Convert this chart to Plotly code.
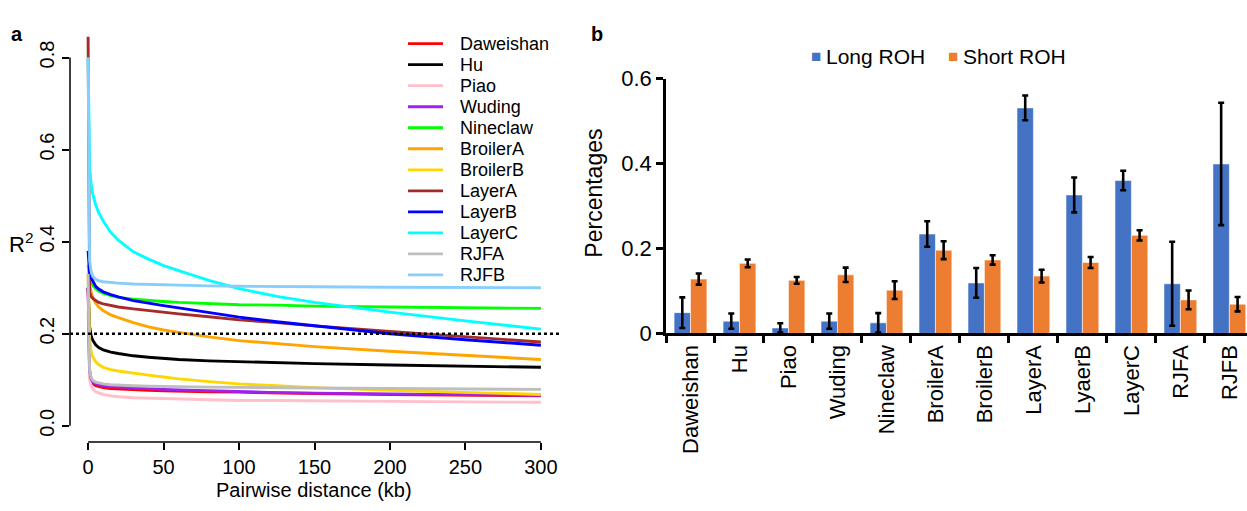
import plotly.graph_objects as go

W, H = 1247, 511
FONT = "Liberation Sans, Arial, sans-serif"

# ---------------- Panel a data: LD decay (R^2 vs pairwise distance) ----------------
distance_kb = [0, 1, 2, 3, 5, 7, 10, 15, 20, 30, 40, 50, 60, 80, 100, 125, 150, 200, 250, 300]

populations = ["Daweishan", "Hu", "Piao", "Wuding", "Nineclaw", "BroilerA",
               "BroilerB", "LayerA", "LayerB", "LayerC", "RJFA", "RJFB"]
line_colors = ["#FF0000", "#000000", "#FFC0CB", "#A020F0", "#00FF00", "#FFA500",
               "#FFD700", "#A52A2A", "#0000FF", "#00FFFF", "#BEBEBE", "#87CEFA"]

r2_daweishan = [0.30, 0.110, 0.097, 0.092, 0.087, 0.085, 0.083, 0.081, 0.080, 0.078, 0.077, 0.076, 0.075, 0.074, 0.073, 0.071, 0.070, 0.068, 0.066, 0.065]
r2_hu        = [0.30, 0.215, 0.195, 0.186, 0.176, 0.170, 0.165, 0.160, 0.157, 0.152, 0.149, 0.146, 0.144, 0.141, 0.139, 0.137, 0.135, 0.132, 0.129, 0.127]
r2_piao      = [0.25, 0.100, 0.087, 0.080, 0.074, 0.071, 0.068, 0.065, 0.063, 0.061, 0.060, 0.059, 0.058, 0.056, 0.055, 0.055, 0.054, 0.053, 0.052, 0.051]
r2_wuding    = [0.30, 0.120, 0.102, 0.096, 0.091, 0.089, 0.087, 0.085, 0.084, 0.082, 0.080, 0.079, 0.078, 0.076, 0.074, 0.072, 0.071, 0.069, 0.067, 0.066]
r2_nineclaw  = [0.33, 0.320, 0.312, 0.306, 0.298, 0.293, 0.288, 0.283, 0.279, 0.275, 0.272, 0.270, 0.268, 0.265, 0.263, 0.262, 0.260, 0.258, 0.256, 0.255]
r2_broilera  = [0.35, 0.310, 0.290, 0.280, 0.266, 0.258, 0.250, 0.241, 0.235, 0.224, 0.215, 0.208, 0.203, 0.193, 0.185, 0.178, 0.172, 0.162, 0.153, 0.144]
r2_broilerb  = [0.33, 0.190, 0.162, 0.150, 0.139, 0.133, 0.127, 0.122, 0.119, 0.114, 0.110, 0.106, 0.102, 0.096, 0.091, 0.087, 0.083, 0.077, 0.072, 0.068]
r2_layera    = [0.845, 0.290, 0.281, 0.277, 0.272, 0.268, 0.265, 0.261, 0.258, 0.254, 0.250, 0.246, 0.243, 0.237, 0.230, 0.224, 0.217, 0.205, 0.193, 0.182]
r2_layerb    = [0.38, 0.330, 0.322, 0.315, 0.303, 0.297, 0.291, 0.285, 0.280, 0.272, 0.266, 0.261, 0.256, 0.246, 0.236, 0.226, 0.217, 0.200, 0.187, 0.175]
r2_layerc    = [0.80, 0.560, 0.525, 0.505, 0.480, 0.463, 0.445, 0.420, 0.403, 0.378, 0.362, 0.348, 0.337, 0.316, 0.298, 0.281, 0.268, 0.247, 0.228, 0.210]
r2_rjfa      = [0.33, 0.120, 0.105, 0.099, 0.095, 0.093, 0.091, 0.089, 0.088, 0.087, 0.086, 0.085, 0.085, 0.084, 0.083, 0.083, 0.082, 0.081, 0.080, 0.079]
r2_rjfb      = [0.80, 0.360, 0.335, 0.325, 0.318, 0.315, 0.313, 0.311, 0.310, 0.308, 0.307, 0.306, 0.305, 0.304, 0.303, 0.303, 0.302, 0.301, 0.300, 0.300]

r2_series = [r2_daweishan, r2_hu, r2_piao, r2_wuding, r2_nineclaw, r2_broilera,
             r2_broilerb, r2_layera, r2_layerb, r2_layerc, r2_rjfa, r2_rjfb]

r2_threshold = 0.2
x_ticks_a = [0, 50, 100, 150, 200, 250, 300]
y_ticks_a = [0.0, 0.2, 0.4, 0.6, 0.8]
y_ticktext_a = ["0.0", "0.2", "0.4", "0.6", "0.8"]

# ---------------- Panel b data: ROH percentages ----------------
categories = ["Daweishan", "Hu", "Piao", "Wuding", "Nineclaw", "BroilerA",
              "BroilerB", "LayerA", "LyaerB", "LayerC", "RJFA", "RJFB"]
long_roh       = [0.049, 0.029, 0.013, 0.029, 0.025, 0.234, 0.119, 0.531, 0.326, 0.360, 0.117, 0.399]
long_roh_err   = [0.036, 0.018, 0.011, 0.018, 0.023, 0.030, 0.035, 0.029, 0.041, 0.023, 0.099, 0.144]
short_roh      = [0.128, 0.165, 0.125, 0.138, 0.102, 0.196, 0.173, 0.135, 0.167, 0.231, 0.079, 0.069]
short_roh_err  = [0.013, 0.009, 0.008, 0.017, 0.021, 0.021, 0.011, 0.015, 0.013, 0.012, 0.022, 0.017]
y_ticks_b = [0, 0.2, 0.4, 0.6]
y_ticktext_b = ["0", "0.2", "0.4", "0.6"]
series_b = ["Long ROH", "Short ROH"]
colors_b = ["#4472C4", "#ED7D31"]


def px_x(p):
    return p / W


def px_y(p):
    return (H - p) / H


fig = go.Figure()

# Panel a lines
for name, col, vals in zip(populations, line_colors, r2_series):
    fig.add_trace(go.Scatter(
        x=distance_kb, y=vals, mode="lines", name=name,
        line=dict(color=col, width=2.9), showlegend=False,
        xaxis="x", yaxis="y",
    ))

# Panel b bars
for name, col, vals, errs in zip(series_b, colors_b, [long_roh, short_roh],
                                 [long_roh_err, short_roh_err]):
    fig.add_trace(go.Bar(
        x=categories, y=vals, name=name, showlegend=False,
        marker=dict(color=col, line=dict(color="rgba(255,255,255,0.55)", width=1)),
        error_y=dict(type="data", array=errs, color="black", thickness=2.6, width=3),
        xaxis="x2", yaxis="y2",
    ))

shapes = []
annotations = []

# R-style axis lines for panel a
shapes.append(dict(type="line", xref="x domain", yref="y", x0=0, x1=0, y0=0, y1=0.8,
                   line=dict(color="black", width=1.5)))
shapes.append(dict(type="line", xref="x", yref="y domain", x0=0, x1=300, y0=0, y1=0,
                   line=dict(color="black", width=1.5)))
# threshold dotted line
shapes.append(dict(type="line", xref="x domain", yref="y", x0=0, x1=1,
                   y0=r2_threshold, y1=r2_threshold,
                   line=dict(color="black", width=2.6, dash="dot")))

# legend for panel a (R style: short line + label)
leg_top, leg_step = 33.3, 22.1
for i, (name, col) in enumerate(zip(populations, line_colors)):
    yy = leg_top + i * leg_step
    shapes.append(dict(type="line", xref="paper", yref="paper",
                       x0=px_x(408), x1=px_x(443), y0=px_y(yy), y1=px_y(yy),
                       line=dict(color=col, width=2.8)))
    annotations.append(dict(x=px_x(458), y=px_y(yy), xref="paper", yref="paper",
                            text=name, showarrow=False, xanchor="left", yanchor="middle",
                            font=dict(family=FONT, size=18, color="black")))

# legend for panel b (Excel style: square + label)
for name, col, sx in zip(series_b, colors_b, [811, 948]):
    annotations.append(dict(x=px_x(sx - 2), y=px_y(47), xref="paper", yref="paper",
                            text="■", showarrow=False, xanchor="left", yanchor="middle",
                            font=dict(family=FONT, size=17, color=col)))
    annotations.append(dict(x=px_x(sx + 13), y=px_y(47), xref="paper", yref="paper",
                            text=name, showarrow=False, xanchor="left", yanchor="middle",
                            font=dict(family=FONT, size=21, color="black")))

annotations += [
    dict(x=px_x(9), y=px_y(23), xref="paper", yref="paper", text="<b>a</b>",
         showarrow=False, xanchor="left", yanchor="middle",
         font=dict(family=FONT, size=20, color="black")),
    dict(x=px_x(589), y=px_y(23), xref="paper", yref="paper", text="<b>b</b>",
         showarrow=False, xanchor="left", yanchor="middle",
         font=dict(family=FONT, size=20, color="black")),
    dict(x=px_x(21), y=px_y(243), xref="paper", yref="paper", text="R<sup>2</sup>",
         showarrow=False, xanchor="center", yanchor="middle",
         font=dict(family=FONT, size=22, color="black")),
    dict(x=px_x(314), y=px_y(503), xref="paper", yref="paper", text="Pairwise distance (kb)",
         showarrow=False, xanchor="center", yanchor="middle",
         font=dict(family=FONT, size=20, color="black")),
    dict(x=px_x(594), y=px_y(191), xref="paper", yref="paper", text="Percentages",
         showarrow=False, xanchor="center", yanchor="middle", textangle=-90,
         font=dict(family=FONT, size=23, color="black")),
]

fig.update_layout(
    width=W, height=H,
    margin=dict(l=0, r=0, t=0, b=0),
    paper_bgcolor="white", plot_bgcolor="white",
    font=dict(family=FONT, color="black"),
    barmode="group", bargap=0.33, bargroupgap=0,
    shapes=shapes, annotations=annotations,
    showlegend=False,
    xaxis=dict(domain=[px_x(70), px_x(559)], range=[-12, 312], anchor="y",
               showgrid=False, zeroline=False, showline=False,
               tickvals=x_ticks_a, ticks="outside", ticklen=7, tickwidth=1.5,
               tickcolor="black", tickfont=dict(family=FONT, size=20)),
    yaxis=dict(domain=[px_y(452), px_y(14)], range=[-0.035, 0.87], anchor="x",
               showgrid=False, zeroline=False, showline=False,
               tickvals=y_ticks_a, ticktext=y_ticktext_a, ticks="outside",
               ticklen=7, tickwidth=1.5, tickcolor="black", tickangle=-90,
               tickfont=dict(family=FONT, size=20)),
    xaxis2=dict(domain=[px_x(666), 1.0], range=[-0.5, 11.36], anchor="y2",
                type="category", showgrid=False, zeroline=False,
                showline=True, linecolor="black", linewidth=2.6,
                ticks="outside", tickson="boundaries", ticklen=7, tickwidth=2.6,
                tickcolor="black", tickangle=-90,
                tickfont=dict(family=FONT, size=22)),
    yaxis2=dict(domain=[px_y(338), px_y(70)], range=[0, 0.6], anchor="x2",
                showgrid=False, zeroline=False, showline=True, linecolor="black",
                linewidth=2.6, tickvals=y_ticks_b, ticktext=y_ticktext_b,
                ticks="outside", ticklen=7, tickwidth=2.6, tickcolor="black",
                tickfont=dict(family=FONT, size=22)),
)

fig.write_html("out.html",
               config={"displayModeBar": False},
               post_script="document.body.style.margin='0';document.body.style.overflow='hidden';")
